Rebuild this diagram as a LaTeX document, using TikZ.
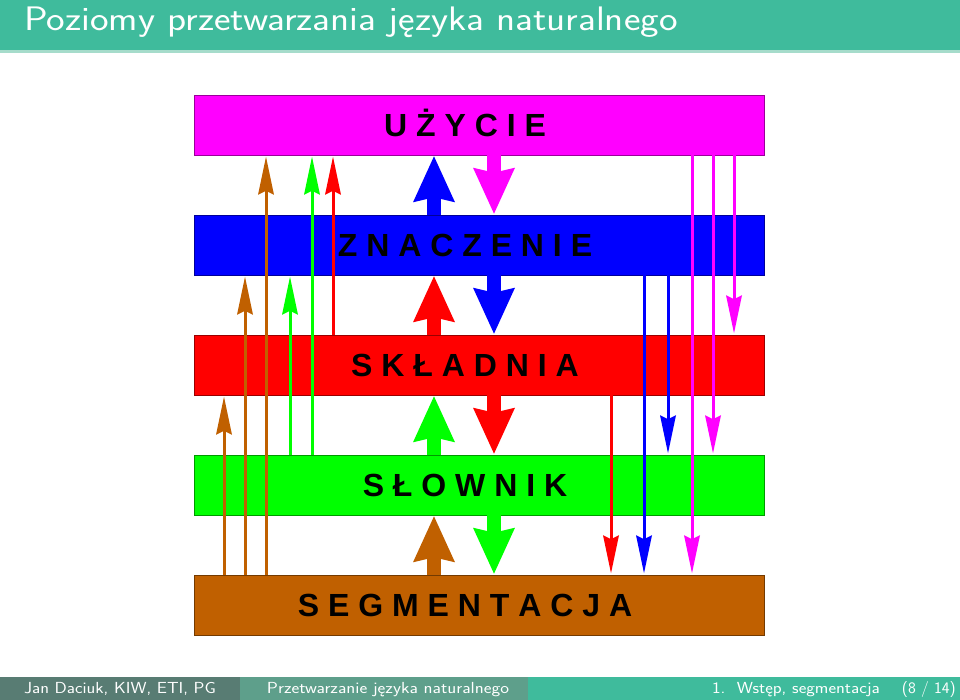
\documentclass[tikz,border=0pt]{standalone}
\usepackage{fontspec}
\usepackage{graphicx}
\newfontfamily\barfont{Liberation Sans}
\usetikzlibrary{arrows.meta}
\definecolor{hdr}{HTML}{3FBB9C}
\definecolor{hdrline}{HTML}{A6DCCB}
\definecolor{ftA}{HTML}{587C73}
\definecolor{ftB}{HTML}{5E9F8B}
\definecolor{ucol}{HTML}{FF00FF}
\definecolor{zcol}{HTML}{0000FF}
\definecolor{scol}{HTML}{FF0000}
\definecolor{lcol}{HTML}{00FF00}
\definecolor{bcol}{HTML}{C06000}
\begin{document}
\begin{tikzpicture}[x=1pt,y=-1pt,
  bar/.style={minimum width=570pt, minimum height=60pt, inner sep=0pt, draw=#1!60!black, fill=#1, line width=0.6pt},
  barlbl/.style={font=\barfont\bfseries\fontsize{32}{36}\selectfont, text=black, inner sep=0pt, anchor=base},
  bigarr/.style={draw=#1, line width=14pt, -{Stealth[length=46pt,width=42pt,inset=5pt,line width=0pt]}, shorten >=1pt},
  thinarr/.style={draw=#1, line width=3pt, -{Stealth[length=38pt,width=16pt,inset=4pt,line width=0pt]}, shorten >=1.5pt},
  foot/.style={font=\sffamily\fontsize{16}{18}\selectfont, text=white, inner sep=0pt, anchor=base}]
\useasboundingbox (0,0) rectangle (960,700);
% header
\fill[hdr] (0,0) rectangle (960,50);
\fill[hdrline] (0,50) rectangle (960,53);
\node[anchor=base west, text=white, font=\sffamily\fontsize{34}{40}\selectfont, inner sep=0pt] (title) at (24,31) {\scalebox{1.16}[1]{Poziomy przetwarzania języka naturalnego}};
% footer
\fill[ftA] (0,677) rectangle (240,700);
\fill[ftB] (240,677) rectangle (528,700);
\fill[hdr] (528,677) rectangle (960,700);
\node[foot] (fa) at (120,693) {\scalebox{1.13}[1]{Jan Daciuk, KIW, ETI, PG}};
\node[foot] (fb) at (388,693) {\scalebox{1.16}[1]{Przetwarzanie języka naturalnego}};
\node[foot, anchor=base east] (fc) at (880,693) {\scalebox{1.14}[1]{1.\ \ Wstęp, segmentacja}};
\node[foot, anchor=base east] (fd) at (956,693) {\scalebox{1.04}[1]{(8 / 14)}};
% bars
\node[bar=ucol] (uz) at (479,125) {};
\node[bar=zcol] (zn) at (479,245) {};
\node[bar=scol] (sk) at (479,365) {};
\node[bar=lcol] (sl) at (479,485) {};
\node[bar=bcol] (seg) at (479,605) {};
\node[barlbl] (uzt) at (465,136.5) {U Ż Y C I E};
\node[barlbl] (znt) at (465,256.5) {Z N A C Z E N I E};
\node[barlbl] (skt) at (465,376.5) {S K Ł A D N I A};
\node[barlbl] (slt) at (465,496.5) {S Ł O W N I K};
\node[barlbl] (segt) at (465,616.5) {S E G M E N T A C J A};
% big arrows between neighbouring levels
\draw[bigarr=zcol] (434,0 |- zn.north) -- (434,0 |- uz.south);
\draw[bigarr=ucol] (494,0 |- uz.south) -- (494,0 |- zn.north);
\draw[bigarr=scol] (434,0 |- sk.north) -- (434,0 |- zn.south);
\draw[bigarr=zcol] (494,0 |- zn.south) -- (494,0 |- sk.north);
\draw[bigarr=lcol] (434,0 |- sl.north) -- (434,0 |- sk.south);
\draw[bigarr=scol] (494,0 |- sk.south) -- (494,0 |- sl.north);
\draw[bigarr=bcol] (434,0 |- seg.north) -- (434,0 |- sl.south);
\draw[bigarr=lcol] (494,0 |- sl.south) -- (494,0 |- seg.north);
% thin arrows upwards (left)
\draw[thinarr=bcol] (224,0 |- seg.north) -- (224,0 |- sk.south);
\draw[thinarr=bcol] (245,0 |- seg.north) -- (245,0 |- zn.south);
\draw[thinarr=bcol] (266,0 |- seg.north) -- (266,0 |- uz.south);
\draw[thinarr=lcol] (290,0 |- sl.north) -- (290,0 |- zn.south);
\draw[thinarr=lcol] (312,0 |- sl.north) -- (312,0 |- uz.south);
\draw[thinarr=scol] (333,0 |- sk.north) -- (333,0 |- uz.south);
% thin arrows downwards (right)
\draw[thinarr=scol] (611,0 |- sk.south) -- (611,0 |- seg.north);
\draw[thinarr=zcol] (644,0 |- zn.south) -- (644,0 |- seg.north);
\draw[thinarr=zcol] (668,0 |- zn.south) -- (668,0 |- sl.north);
\draw[thinarr=ucol] (692,0 |- uz.south) -- (692,0 |- seg.north);
\draw[thinarr=ucol] (713,0 |- uz.south) -- (713,0 |- sl.north);
\draw[thinarr=ucol] (734,0 |- uz.south) -- (734,0 |- sk.north);
\end{tikzpicture}
\end{document}
